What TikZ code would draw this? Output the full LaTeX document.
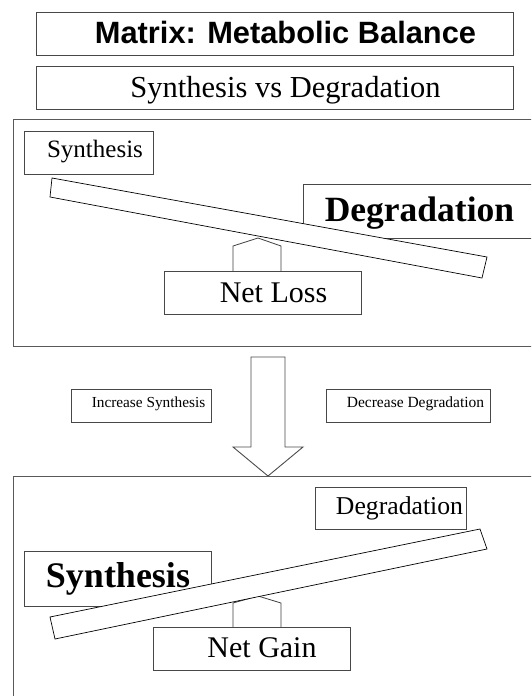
\documentclass[tikz,border=0pt]{standalone}
\usepackage{fontspec}
\setmainfont{Liberation Serif}
\newfontfamily\titlefont{Liberation Sans}
\begin{document}
\begin{tikzpicture}[x=1pt,y=-1pt,
  box/.style={draw=black!72, line width=0.9pt, fill=white, inner sep=0pt, anchor=north west},
  panel/.style={draw=black!65, line width=1.1pt, fill=white, inner sep=0pt, anchor=north west},
  beam/.style={draw=black, line width=0.7pt, fill=white, line join=miter},
  fulcrum/.style={draw=black!75, line width=0.8pt, fill=white},
  bigarrow/.style={draw=black!70, line width=0.9pt, fill=white, line join=miter},
  txt/.style={anchor=base, inner sep=0pt}]
\useasboundingbox (0,0) rectangle (531,696);
\clip (0,0) rectangle (531,696);
\fill[white] (0,0) rectangle (531,696);

% headings
\node[box, minimum width=477pt, minimum height=43pt] (title) at (36,12) {};
\node[txt, font=\titlefont\bfseries\fontsize{30.8}{34}\selectfont] (titletext) at (285.5,43) {Matrix: Metabolic Balance};
\node[box, minimum width=477pt, minimum height=43pt] (sub) at (36,66) {};
\node[txt, font=\fontsize{30.5}{34}\selectfont] (subtext) at (285.5,97) {Synthesis vs Degradation};

% top panel
\node[panel, minimum width=540pt, minimum height=227pt] (panelA) at (13,119) {};
\node[box, minimum width=129pt, minimum height=43pt] (synA) at (24,131) {};
\node[txt, font=\fontsize{25}{28}\selectfont] (synAtext) at (95,157) {Synthesis};
\node[box, minimum width=240pt, minimum height=54pt] (degA) at (303,184) {};
\node[txt, font=\bfseries\fontsize{35.5}{40}\selectfont] (degAtext) at (419.5,221) {Degradation};
\draw[fulcrum] (233,271) -- (233,246) -- (258,238) -- (281,246) -- (281,271);
\draw[beam] (52,178) -- (487,257) -- (482,278) -- (50,197) -- cycle;
\node[box, minimum width=197pt, minimum height=43pt] (lossA) at (164,271) {};
\node[txt, font=\fontsize{30}{34}\selectfont] (lossAtext) at (273.5,302) {Net Loss};

% middle
\draw[bigarrow] (251,357) -- (285,357) -- (285,447) -- (303,447) -- (268,476) -- (233,447) -- (251,447) -- cycle;
\node[box, minimum width=140pt, minimum height=33pt] (incS) at (71,389) {};
\node[txt, font=\fontsize{15.3}{17}\selectfont] (incStext) at (148.5,407) {Increase Synthesis};
\node[box, minimum width=164pt, minimum height=33pt] (decD) at (326,389) {};
\node[txt, font=\fontsize{15.5}{17}\selectfont] (decDtext) at (415.5,407) {Decrease Degradation};

% bottom panel
\node[panel, minimum width=540pt, minimum height=240pt] (panelB) at (13,476) {};
\node[box, minimum width=151pt, minimum height=42pt] (degB) at (315,487) {};
\node[txt, font=\fontsize{25.7}{29}\selectfont] (degBtext) at (399.5,514) {Degradation};
\node[box, minimum width=187pt, minimum height=55pt] (synB) at (24,551) {};
\node[txt, font=\bfseries\fontsize{36}{40}\selectfont] (synBtext) at (118,587) {Synthesis};
\draw[fulcrum] (233,627) -- (233,603) -- (258,596) -- (281,603) -- (281,627);
\draw[beam] (50,617) -- (480,529) -- (487,549) -- (55,639) -- cycle;
\node[box, minimum width=197pt, minimum height=43pt] (gainB) at (153,627) {};
\node[txt, font=\fontsize{30}{34}\selectfont] (gainBtext) at (262,657) {Net Gain};
\end{tikzpicture}
\end{document}
